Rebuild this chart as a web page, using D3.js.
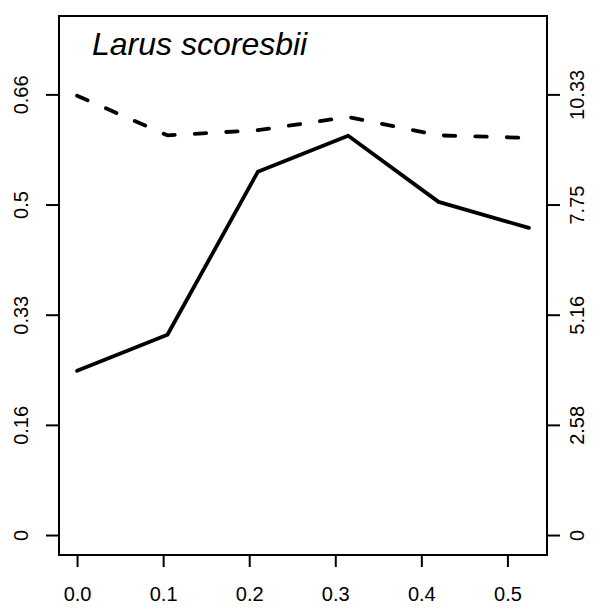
<!DOCTYPE html>
<html>
<head>
<meta charset="utf-8">
<script src="https://cdn.jsdelivr.net/npm/d3@7"></script>
<style>
  body { margin: 0; background: #fff; }
  svg { display: block; font-family: "Liberation Sans", Arial, sans-serif; }
</style>
</head>
<body>
<svg id="chart" width="600" height="612"></svg>
<script>
// Data
const xValues = [0, 0.105, 0.21, 0.315, 0.42, 0.525];
const solidSeries = [0.246, 0.300, 0.544, 0.598, 0.499, 0.460];   // left axis
const dashedSeries = [10.30, 9.37, 9.49, 9.80, 9.37, 9.31];        // right axis
const xTicks = [0, 0.1, 0.2, 0.3, 0.4, 0.5];
const xTickLabels = ["0.0", "0.1", "0.2", "0.3", "0.4", "0.5"];
const leftMax = 0.66;
const rightMax = 10.33;
const leftTickLabels = ["0", "0.16", "0.33", "0.5", "0.66"];
const rightTickLabels = ["0", "2.58", "5.16", "7.75", "10.33"];
const title = "Larus scoresbii";

const svg = d3.select("#chart");
const L = 59, R = 547, T = 16, B = 555;

const x = d3.scaleLinear().domain([-0.021, 0.546]).range([L, R]);
const yL = d3.scaleLinear().domain([-0.0299, 0.7774]).range([B, T]);
const ratio = rightMax / leftMax;
const yR = d3.scaleLinear().domain([-0.0299 * ratio, 0.7774 * ratio]).range([B, T]);

const leftTicks = d3.range(5).map(i => i * leftMax / 4);
const rightTicks = d3.range(5).map(i => i * rightMax / 4);

// X axis
const xAxis = d3.axisBottom(x).tickValues(xTicks)
  .tickFormat((d, i) => xTickLabels[i]).tickSize(12).tickPadding(10);
const gx = svg.append("g").attr("transform", `translate(0,${B})`).call(xAxis);
gx.select(".domain").remove();
gx.selectAll(".tick line").attr("stroke", "#000").attr("stroke-width", 2);
gx.selectAll(".tick text").attr("font-size", 20).attr("fill", "#000")
  .attr("font-family", "Liberation Sans, Arial, sans-serif")
  .attr("y", null).attr("dy", null)
  .attr("transform", "translate(0,45.7)");

// Left axis
const yAxisL = d3.axisLeft(yL).tickValues(leftTicks)
  .tickFormat((d, i) => leftTickLabels[i]).tickSize(13);
const gl = svg.append("g").attr("transform", `translate(${L},0)`).call(yAxisL);
gl.select(".domain").remove();
gl.selectAll(".tick line").attr("stroke", "#000").attr("stroke-width", 2);
gl.selectAll(".tick text")
  .attr("font-size", 20).attr("fill", "#000")
  .attr("font-family", "Liberation Sans, Arial, sans-serif")
  .attr("x", null).attr("dy", null)
  .attr("text-anchor", "middle")
  .attr("transform", "translate(-31.5,0) rotate(-90)");

// Right axis
const yAxisR = d3.axisRight(yR).tickValues(rightTicks)
  .tickFormat((d, i) => rightTickLabels[i]).tickSize(13);
const gr = svg.append("g").attr("transform", `translate(${R},0)`).call(yAxisR);
gr.select(".domain").remove();
gr.selectAll(".tick line").attr("stroke", "#000").attr("stroke-width", 2);
gr.selectAll(".tick text")
  .attr("font-size", 20).attr("fill", "#000")
  .attr("font-family", "Liberation Sans, Arial, sans-serif")
  .attr("x", null).attr("dy", null)
  .attr("text-anchor", "middle")
  .attr("transform", "translate(36.5,0) rotate(-90)");

// Box
svg.append("rect").attr("x", L).attr("y", T).attr("width", R - L).attr("height", B - T)
  .attr("fill", "none").attr("stroke", "#000").attr("stroke-width", 2);

// Lines
const solidLine = d3.line().x((d, i) => x(xValues[i])).y(d => yL(d));
const dashedLine = d3.line().x((d, i) => x(xValues[i])).y(d => yR(d));

svg.append("path").datum(solidSeries).attr("d", solidLine)
  .attr("fill", "none").attr("stroke", "#000").attr("stroke-width", 3.8)
  .attr("stroke-linejoin", "round").attr("stroke-linecap", "round");

svg.append("path").datum(dashedSeries).attr("d", dashedLine)
  .attr("fill", "none").attr("stroke", "#000").attr("stroke-width", 3.8)
  .attr("stroke-dasharray", "11.5,20").attr("stroke-linecap", "round");

// Title
svg.append("text").attr("x", 92).attr("y", 55)
  .attr("font-size", 32).attr("font-style", "italic").attr("fill", "#000")
  .attr("font-family", "Liberation Sans, Arial, sans-serif")
  .text(title);
</script>
</body>
</html>
